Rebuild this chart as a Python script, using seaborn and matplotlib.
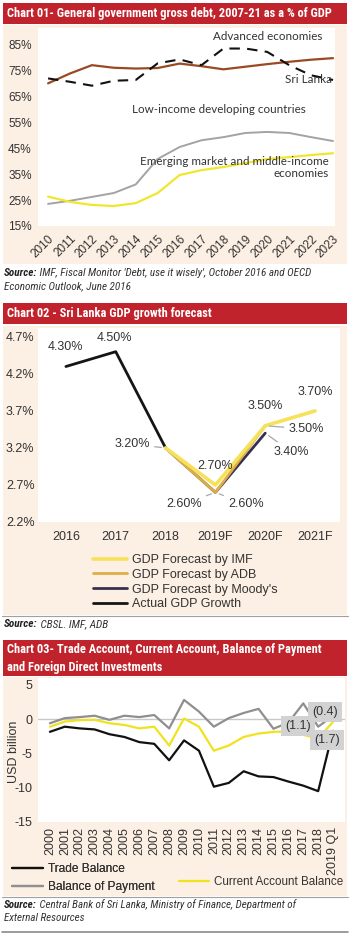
import matplotlib
matplotlib.use("Agg")
import matplotlib.pyplot as plt
from matplotlib import font_manager as fm
from matplotlib.patches import Rectangle
from matplotlib.lines import Line2D
from matplotlib.text import Annotation
import pandas as pd
import seaborn as sns

# ---- Chart 01 data: general government gross debt (% of GDP)
debt_years = [str(y) for y in range(2010, 2024)]
debt_advanced = [69.9, 73.7, 76.9, 75.9, 75.6, 75.8, 77.5, 76.5, 75.3, 76.3, 77.3, 78.2, 79.0, 79.6]
debt_srilanka = [71.8, 70.5, 69.0, 70.9, 71.2, 77.6, 79.1, 76.9, 83.3, 83.3, 82.0, 76.9, 73.0, 71.2]
debt_lowincome = [23.5, 24.7, 26.2, 27.7, 31.0, 40.8, 45.4, 48.0, 49.2, 50.8, 51.2, 50.8, 49.2, 47.7]
debt_emerging = [26.3, 24.3, 23.1, 22.7, 23.8, 27.7, 34.6, 36.5, 37.7, 39.2, 40.8, 41.5, 42.3, 43.0]

# ---- Chart 02 data: GDP growth forecast (%)
gdp_years = ["2016", "2017", "2018", "2019F", "2020F", "2021F"]
actual_growth = [4.3, 4.5, 3.2]
moodys_fc = [3.2, 2.6, 3.4]
adb_fc = [3.2, 2.6, 3.5]
imf_fc = [3.2, 2.7, 3.5, 3.7]

# ---- Chart 03 data: external accounts (USD billion)
periods = [str(y) for y in range(2000, 2019)] + ["2019 Q1"]
trade_balance = [-1.85, -1.1, -1.35, -1.5, -2.2, -2.6, -3.35, -3.6, -6.0, -3.1,
                 -4.6, -9.85, -9.3, -7.6, -8.35, -8.45, -9.1, -9.7, -10.5, -1.7]
current_account = [-1.1, -0.35, -0.15, -0.1, -0.6, -0.85, -1.35, -1.1, -3.85, 0.1,
                   -1.1, -4.6, -3.85, -2.6, -2.1, -1.85, -1.8, -2.3, -2.8, -0.4]
balance_payment = [-0.6, 0.15, 0.3, 0.5, -0.1, 0.5, 0.3, 0.6, -1.35, 2.8,
                   1.1, -1.1, 0.15, 0.9, 1.5, -1.4, -0.5, 2.3, -1.1, 0.5]

W, H = 350, 935
RED = "#c0232b"
PEACH = "#fcefe3"
TXT = "#333333"

sns.set_style("white")
plt.rcParams["font.family"] = ["Liberation Sans", "DejaVu Sans"]
plt.rcParams["axes.unicode_minus"] = False
CALI = ["Lato", "DejaVu Sans"]

# look for a narrow / condensed face for the headings
cond_names = sorted({f.name for f in fm.fontManager.ttflist
                     if f.stretch in ("condensed", "semi-condensed", "extra-condensed")
                     or "Narrow" in f.name or "Condensed" in f.name})
COND = None
for pref in ["Liberation Sans Narrow", "Roboto Condensed", "Open Sans Condensed",
             "Noto Sans Condensed", "DejaVu Sans Condensed", "Noto Sans", "DejaVu Sans"]:
    if pref in cond_names:
        COND = pref
        break
if COND is None:
    COND = cond_names[0] if cond_names else "Liberation Sans"
COND = [COND, "DejaVu Sans"]

fig = plt.figure(figsize=(W / 100, H / 100), dpi=100)
rend = fig.canvas.get_renderer()


def fx(px):
    return px / W


def fy(py):
    return 1 - py / H


def rect(x0, y0, x1, y1, color):
    fig.add_artist(Rectangle((fx(x0), fy(y1)), (x1 - x0) / W, (y1 - y0) / H,
                             transform=fig.transFigure, facecolor=color,
                             edgecolor="none", zorder=-1))


def hline(y, x0=2, x1=348, color="#a0a0a0", lw=0.8):
    fig.add_artist(Line2D([fx(x0), fx(x1)], [fy(y), fy(y)], transform=fig.transFigure,
                          color=color, lw=lw, zorder=-1))


def px_axes(x0, y0, x1, y1):
    ax = fig.add_axes([fx(x0), fy(y1), (x1 - x0) / W, (y1 - y0) / H])
    ax.set_facecolor("white")
    for s in ax.spines.values():
        s.set_visible(False)
    return ax


def fit(texts, x0, x1, cap):
    # scale a run of texts so it spans x0..x1 px
    left = min(t.get_window_extent(rend).x0 for t in texts)
    right = max(t.get_window_extent(rend).x1 for t in texts)
    k = (x1 - x0) / (right - left)
    for t in texts:
        t.set_fontsize(min(t.get_fontsize() * k, cap))


def header(y0, y1, lines, ends):
    rect(3, y0, 347, y1, RED)
    step = (y1 - y0) / len(lines)
    for i, (t, e) in enumerate(zip(lines, ends)):
        tx = fig.text(fx(7), fy(y0 + step * (i + 0.5)), t, color="white", fontsize=10,
                      fontweight="bold", fontstretch="condensed", family=COND,
                      va="center", ha="left")
        fit([tx], 7, e, 10.5)


def source(y, rest, end, second=None):
    t1 = fig.text(fx(4), fy(y), "Source:", fontsize=9, fontweight="bold",
                  fontstyle="italic", fontstretch="condensed", family=COND,
                  va="center", color="#222222")
    t2 = Annotation(" " + rest, xy=(1, 0.5), xycoords=t1, va="center",
                    ha="left", fontsize=9, fontstyle="italic", fontstretch="condensed",
                    family=COND, color="#333333")
    fig.add_artist(t2)
    fit([t1, t2], 4, end, 9.2)
    if second:
        fig.text(fx(4), fy(y + 13), second, fontsize=t2.get_fontsize(), fontstyle="italic",
                 fontstretch="condensed", family=COND, va="center", color="#333333")


# ================= Chart 01 =================
header(3, 24, ["Chart 01- General government gross debt, 2007-21 as a % of GDP"], [333])
rect(3, 25, 347, 264, PEACH)
ax1 = px_axes(38, 28, 335, 226)
x1 = list(range(len(debt_years)))
sns.lineplot(x=x1, y=debt_lowincome, ax=ax1, color="#a3a3a3", lw=1.4)
sns.lineplot(x=x1, y=debt_emerging, ax=ax1, color="#f1e62e", lw=1.6)
sns.lineplot(x=x1, y=debt_advanced, ax=ax1, color="#9a4a22", lw=1.6)
sns.lineplot(x=x1, y=debt_srilanka, ax=ax1, color="#111111", lw=1.5)
ax1.lines[-1].set_dashes([5, 3.5])
ax1.set_xlim(-0.46, 13.09)
ax1.set_ylim(15, 91.2)
ax1.set_yticks(range(15, 90, 10))
ax1.set_yticklabels([f"{v}%" for v in range(15, 90, 10)])
ax1.set_xticks(x1)
ax1.set_xticklabels(debt_years, rotation=45, ha="right", rotation_mode="anchor")
ax1.tick_params(axis="y", length=0, pad=4.5, labelsize=8.5, labelcolor=TXT)
ax1.tick_params(axis="x", length=0, pad=5, labelsize=8.5, labelcolor=TXT)
ax1.text(10.0, 88.0, "Advanced economies", fontsize=8.4, family=CALI, color=TXT,
         ha="center", va="center")
ax1.text(11.9, 71.2, "Sri Lanka", fontsize=8.4, family=CALI, color=TXT,
         ha="center", va="center")
ax1.text(7.8, 60.0, "Low-income developing countries", fontsize=8.4, family=CALI,
         color=TXT, ha="center", va="center")
ax1.text(12.8, 37.4, "Emerging market and middle-income\neconomies", fontsize=8.4,
         family=CALI, color=TXT, ha="right", va="center", multialignment="right",
         linespacing=1.1)
source(273, "IMF, Fiscal Monitor 'Debt, use it wisely', October 2016 and OECD", 313,
       "Economic Outlook, June 2016")

# ================= Chart 02 =================
header(303, 324, ["Chart 02 - Sri Lanka GDP growth forecast"], [212])
rect(3, 326, 347, 615, PEACH)
hline(615.5)
ax2 = px_axes(38, 328, 340, 522)
xg = list(range(len(gdp_years)))
sns.lineplot(x=xg[:3], y=actual_growth, ax=ax2, color="#151515", lw=2.0, label="Actual GDP Growth")
sns.lineplot(x=xg[2:5], y=moodys_fc, ax=ax2, color="#35324f", lw=2.0, label="GDP Forecast by Moody's")
sns.lineplot(x=xg[2:5], y=adb_fc, ax=ax2, color="#e0ad45", lw=2.0, label="GDP Forecast by ADB")
sns.lineplot(x=xg[2:6], y=imf_fc, ax=ax2, color="#f6e25a", lw=2.6, label="GDP Forecast by IMF")
if ax2.get_legend():
    ax2.get_legend().remove()
ax2.set_xlim(-0.56, 5.5)
ax2.set_ylim(2.2, 4.82)
yt2 = [2.2, 2.7, 3.2, 3.7, 4.2, 4.7]
ax2.set_yticks(yt2)
ax2.set_yticklabels([f"{v:.1f}%" for v in yt2])
ax2.set_xticks(xg)
ax2.set_xticklabels(gdp_years)
ax2.tick_params(axis="y", length=0, pad=2.5, labelsize=9, labelcolor=TXT)
ax2.tick_params(axis="x", length=0, pad=6.5, labelsize=9, labelcolor=TXT)
lbl = dict(fontsize=9, color=TXT, ha="center", va="center")
lead = dict(arrowstyle="-", color="#a8a8a8", lw=0.9, shrinkA=1, shrinkB=3)
ax2.annotate("4.30%", xy=(0, 4.3), xytext=(0, 4.565), **lbl)
ax2.annotate("4.50%", xy=(1, 4.5), xytext=(0.98, 4.69), **lbl)
ax2.annotate("3.20%", xy=(2, 3.2), xytext=(1.33, 3.25), arrowprops=lead, **lbl)
ax2.annotate("2.70%", xy=(3, 2.7), xytext=(3.0, 2.957), **lbl)
ax2.annotate("3.50%", xy=(4, 3.5), xytext=(4.0, 3.77), **lbl)
ax2.annotate("3.70%", xy=(5, 3.7), xytext=(5.0, 3.957), **lbl)
ax2.annotate("3.50%", xy=(4, 3.5), xytext=(4.82, 3.457), arrowprops=lead, **lbl)
ax2.annotate("3.40%", xy=(4, 3.4), xytext=(4.52, 3.146), arrowprops=lead, **lbl)
ax2.annotate("2.60%", xy=(3, 2.6), xytext=(2.37, 2.443), arrowprops=lead, **lbl)
ax2.annotate("2.60%", xy=(3, 2.6), xytext=(3.61, 2.443), arrowprops=lead, **lbl)
h2, l2 = ax2.get_legend_handles_labels()
order = [l2.index(n) for n in ["GDP Forecast by IMF", "GDP Forecast by ADB",
                               "GDP Forecast by Moody's", "Actual GDP Growth"]]
fig.legend([h2[i] for i in order], [l2[i] for i in order], loc="upper left",
           bbox_to_anchor=(fx(93), fy(554)), frameon=False, fontsize=9,
           handlelength=2.7, handletextpad=0.45, labelspacing=0.22, borderpad=0,
           borderaxespad=0, labelcolor=TXT)
source(624, "CBSL. IMF, ADB", 108)

# ================= Chart 03 =================
header(640, 676, ["Chart 03- Trade Account, Current Account, Balance of Payment",
                  "and Foreign Direct Investments"], [319, 162])
rect(3, 677, 347, 896, PEACH)
hline(896.5)
hline(932, color="#8a8a8a", lw=1.2)
ax3 = px_axes(38, 678, 345, 822)
df3 = pd.DataFrame({"period": periods, "Trade Balance": trade_balance,
                    "Current Account Balance": current_account,
                    "Balance of Payment": balance_payment})
df3["pos"] = range(len(df3))
ax3.axhline(0, color="#c8c8c8", lw=1.0, zorder=1)
sns.lineplot(data=df3, x="pos", y="Balance of Payment", ax=ax3, color="#8f8f8f", lw=1.6,
             label="Balance of Payment")
sns.lineplot(data=df3, x="pos", y="Current Account Balance", ax=ax3, color="#f0e21e", lw=1.6,
             label="Current Account Balance")
sns.lineplot(data=df3, x="pos", y="Trade Balance", ax=ax3, color="#111111", lw=1.6,
             label="Trade Balance")
if ax3.get_legend():
    ax3.get_legend().remove()
ax3.set_xlim(-0.8, 19.8)
ax3.set_ylim(-15, 6.0)
ax3.set_yticks([-15, -10, -5, 0, 5])
ax3.set_xticks(df3["pos"])
ax3.set_xticklabels(periods, rotation=90, va="top", ha="center")
ax3.tick_params(axis="y", length=0, pad=4, labelsize=9, labelcolor=TXT)
ax3.tick_params(axis="x", length=0, pad=3.5, labelsize=9, labelcolor=TXT)
ax3.set_xlabel("")
ax3.set_ylabel("")
fig.text(fx(14), fy(752), "USD billion", rotation=90, fontsize=9, color=TXT,
         ha="center", va="center")
box = dict(boxstyle="square,pad=0.32", facecolor="#d2d2d2", edgecolor="none")
ax3.text(16.65, -1.05, "(1.1)", fontsize=9, color=TXT, ha="center", va="center",
         bbox=box, zorder=5)
ax3.text(18.45, 1.05, "(0.4)", fontsize=9, color=TXT, ha="center", va="center",
         bbox=box, zorder=5)
ax3.text(18.6, -3.1, "(1.7)", fontsize=9, color=TXT, ha="center", va="center",
         bbox=box, zorder=5)
h3, l3 = ax3.get_legend_handles_labels()
leg_a = fig.legend([h3[l3.index("Trade Balance")], h3[l3.index("Balance of Payment")]],
                   ["Trade Balance", "Balance of Payment"], loc="upper left",
                   bbox_to_anchor=(fx(12), fy(863)), frameon=False, fontsize=8.6,
                   handlelength=2.6, handletextpad=0.45, labelspacing=0.5,
                   borderpad=0, borderaxespad=0, labelcolor=TXT)
fig.legend([h3[l3.index("Current Account Balance")]], ["Current Account Balance"],
           loc="upper left", bbox_to_anchor=(fx(179), fy(876)), frameon=False,
           fontsize=8.4, handlelength=2.6, handletextpad=0.4, borderpad=0,
           borderaxespad=0, labelcolor=TXT)
fig.add_artist(leg_a)
source(905, "Central Bank of Sri Lanka, Ministry of Finance, Department of", 297,
       "External Resources")

fig.savefig("out.png", dpi=100)
